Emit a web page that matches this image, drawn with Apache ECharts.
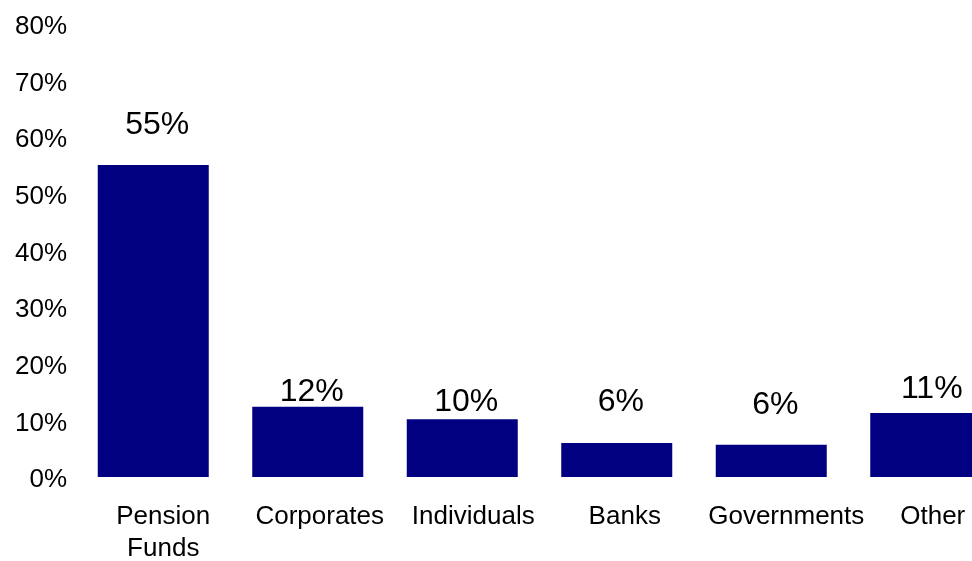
<!DOCTYPE html>
<html>
<head>
<meta charset="utf-8">
<script src="https://cdn.jsdelivr.net/npm/echarts@6/dist/echarts.min.js"></script>
<style>
  html, body { margin: 0; padding: 0; background: #ffffff; }
  #chart { width: 972px; height: 561px; }
</style>
</head>
<body>
<div id="chart"></div>
<script>
// Investor breakdown, share of total (%)
const categories = ['Pension\nFunds', 'Corporates', 'Individuals', 'Banks', 'Governments', 'Other'];
const shares = [55.1, 12.4, 10.2, 6.0, 5.7, 11.3];
const yTicks = [0, 10, 20, 30, 40, 50, 60, 70, 80];

// Hand-placed label nudges (px): value labels [dx, dy], category labels dx
const valueLabelNudge = [[4, -24], [4, 1], [4, -1], [4, -25], [4, -24], [6, -8]];
const categoryLabelNudge = [10, 12, 11, 8, 15, 7];

const FONT = '"Liberation Sans", Arial, sans-serif';

const rich = {};
categoryLabelNudge.forEach((dx, i) => {
  rich['c' + i] = {
    fontFamily: FONT,
    fontSize: 26,
    lineHeight: 32,
    color: '#000000',
    padding: [0, 0, 0, dx * 2]
  };
});

const chart = echarts.init(document.getElementById('chart'), null, { renderer: 'canvas' });
chart.setOption({
  animation: false,
  backgroundColor: '#ffffff',
  // plot area runs past the right edge, so the last bar is cut off
  grid: {
    left: 76, width: 927, top: 24, bottom: 84,
    containLabel: false,
    outerBoundsMode: 'none'
  },
  xAxis: {
    type: 'category',
    data: categories,
    axisLine: { show: false },
    axisTick: { show: false },
    splitLine: { show: false },
    axisLabel: {
      interval: 0,
      margin: 24,
      formatter: (value, idx) => '{c' + idx + '|' + value + '}',
      rich: rich
    }
  },
  yAxis: {
    type: 'value',
    min: yTicks[0],
    max: yTicks[yTicks.length - 1],
    interval: yTicks[1] - yTicks[0],
    axisLine: { show: false },
    axisTick: { show: false },
    splitLine: { show: false },
    axisLabel: {
      margin: 9,
      formatter: '{v|{value}%}',
      rich: {
        v: {
          fontFamily: FONT,
          fontSize: 26,
          color: '#000000',
          padding: [6, 0, 0, 0]
        }
      }
    }
  },
  series: [{
    type: 'bar',
    barWidth: 111,
    itemStyle: { color: '#000080' },
    data: shares.map((v, i) => ({
      value: v,
      label: { offset: valueLabelNudge[i] }
    })),
    label: {
      show: true,
      position: 'top',
      distance: 0,
      fontFamily: FONT,
      fontSize: 32,
      color: '#000000',
      formatter: p => Math.round(p.value) + '%'
    }
  }]
});
</script>
</body>
</html>
